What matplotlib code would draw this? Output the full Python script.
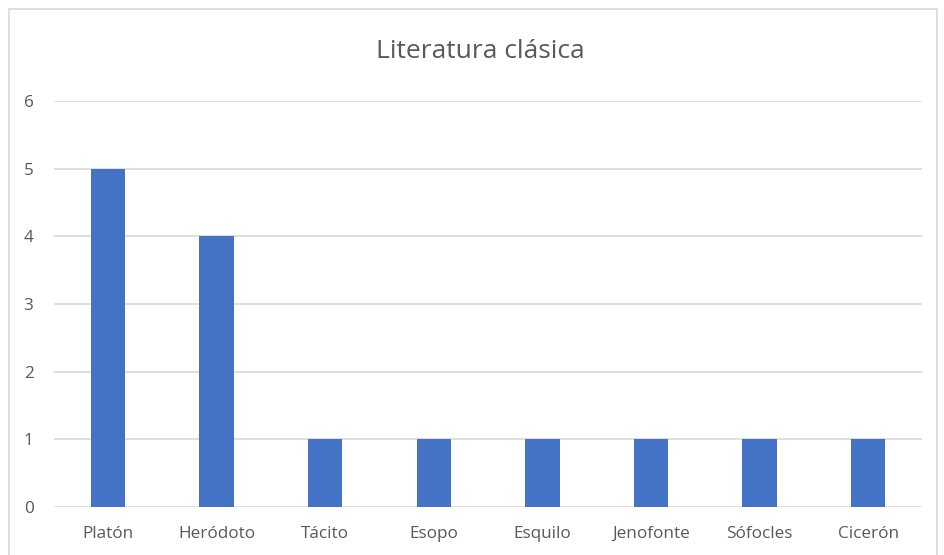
import matplotlib
matplotlib.use("Agg")
import matplotlib.pyplot as plt
from matplotlib.patches import Rectangle

categories = ["Platón", "Heródoto", "Tácito", "Esopo", "Esquilo", "Jenofonte", "Sófocles", "Cicerón"]
values = [5, 4, 1, 1, 1, 1, 1, 1]
yticks = [0, 1, 2, 3, 4, 5, 6]

W, H = 945, 555
plt.rcParams['font.family'] = ['Open Sans', 'DejaVu Sans']
fig = plt.figure(figsize=(W / 100, H / 100), dpi=100)
fig.patch.set_facecolor("white")

# chart border
fig.add_artist(Rectangle((9 / W, -0.05), (937 - 9) / W, 1.05 - 9 / H,
                         transform=fig.transFigure, fill=False,
                         edgecolor="#D9D9D9", linewidth=1.2))

left, right, top, bottom = 53.7, 922.5, 101, 507
ax = fig.add_axes([left / W, (H - bottom) / H, (right - left) / W, (bottom - top) / H])
x = list(range(len(categories)))
ax.bar(x, values, width=0.315, color="#4472C4", zorder=3)
ax.set_xlim(-0.5, len(categories) - 0.5)
ax.set_ylim(0, 6)
ax.set_yticks(yticks)
ax.set_yticklabels([str(t) for t in yticks])
ax.set_xticks(x)
ax.set_xticklabels(categories)
ax.grid(axis="y", color="#D9D9D9", linewidth=1.2, zorder=0)
for s in ax.spines.values():
    s.set_visible(False)
ax.tick_params(axis="both", length=0, colors="#595959", labelsize=12.3)
ax.tick_params(axis="y", pad=14.5)
ax.tick_params(axis="x", pad=13.5)

fig.text(480 / W, 1 - 51 / H, "Literatura clásica", ha="center", va="center",
         fontsize=19, color="#595959")

fig.savefig("out.png", dpi=100, facecolor="white")
